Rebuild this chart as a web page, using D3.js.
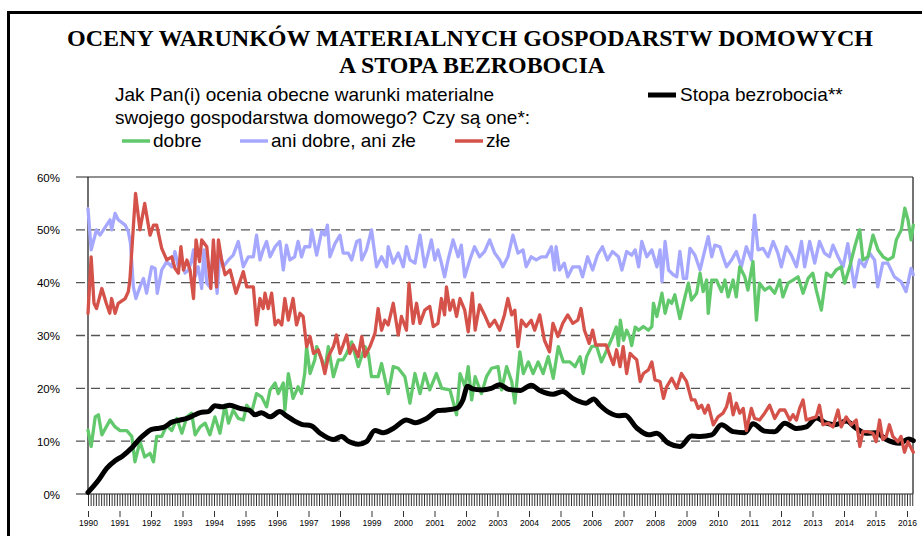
<!DOCTYPE html>
<html><head><meta charset="utf-8">
<script src="https://cdn.jsdelivr.net/npm/d3@7/dist/d3.min.js"></script>
<style>html,body{margin:0;padding:0;background:#fff;}svg{display:block;}</style>
</head><body>
<svg id="chart" width="922" height="536"></svg>
<script>
// ---- DATA (year as decimal, value in %) ----
const yearTicks = d3.range(1990, 2017);
const yTicks = [0, 10, 20, 30, 40, 50, 60];

const dobre = [[1990.0,12.1],[1990.1,9],[1990.23,14.6],[1990.33,15],[1990.44,11.2],[1990.7,14],[1990.86,12.7],[1991.02,12],[1991.23,12],[1991.39,10.9],[1991.49,6.1],[1991.65,9.9],[1991.8,7],[1991.97,7.7],[1992.08,6.1],[1992.18,10.9],[1992.34,10.9],[1992.5,13],[1992.66,12],[1992.82,14.3],[1992.98,11.5],[1993.14,14.6],[1993.29,15.3],[1993.4,11.2],[1993.56,12.7],[1993.72,13.4],[1993.87,11.2],[1994.03,14.6],[1994.19,11.5],[1994.35,16.8],[1994.46,13.4],[1994.61,15.9],[1994.77,14.3],[1994.93,14],[1995.04,16.8],[1995.2,15.6],[1995.35,19],[1995.51,18.4],[1995.67,16.5],[1995.78,19.7],[1995.94,21],[1996.04,19],[1996.2,21],[1996.25,15.9],[1996.36,22.8],[1996.51,18.1],[1996.67,20.3],[1996.78,19],[1996.88,22.8],[1996.94,27.9],[1997.05,22.8],[1997.2,25.4],[1997.26,27.9],[1997.42,25.4],[1997.52,23.5],[1997.63,27.9],[1997.79,22.2],[1997.95,25.4],[1998.1,25.4],[1998.21,26.6],[1998.37,28.8],[1998.58,24.1],[1998.79,27.9],[1998.9,26.6],[1999.0,22.2],[1999.21,22.2],[1999.32,24.7],[1999.53,19],[1999.69,24.1],[1999.85,23.8],[2000.06,22.2],[2000.22,17.2],[2000.38,22.8],[2000.54,19],[2000.69,22.8],[2000.85,19.7],[2001.06,22.8],[2001.23,20],[2001.49,19.7],[2001.7,15],[2001.81,22.8],[2001.97,20.3],[2002.07,24.1],[2002.18,17.8],[2002.29,22.2],[2002.49,19],[2002.65,22.2],[2002.81,23.8],[2003.02,24.1],[2003.13,19.7],[2003.29,24.1],[2003.45,21.3],[2003.55,17.2],[2003.71,26.9],[2003.82,22.8],[2003.98,25],[2004.13,22.8],[2004.29,25],[2004.45,22.8],[2004.61,26],[2004.77,21.9],[2004.93,27.9],[2005.09,25],[2005.3,25],[2005.46,24.1],[2005.62,26],[2005.72,22.8],[2005.83,26],[2005.99,27.9],[2006.14,28.1],[2006.3,25],[2006.51,27.8],[2006.65,29.7],[2006.77,31.6],[2006.84,28.1],[2006.9,32.9],[2007.0,29.1],[2007.1,31],[2007.2,29.7],[2007.26,28.1],[2007.37,31.6],[2007.48,31],[2007.63,31.7],[2007.79,31],[2007.9,31.7],[2007.95,36.1],[2008.06,33.6],[2008.22,38],[2008.32,34.2],[2008.43,36.7],[2008.53,36.1],[2008.63,37.7],[2008.79,33.2],[2008.95,37.3],[2009.06,39.9],[2009.16,36.7],[2009.32,38],[2009.43,41.8],[2009.53,38.3],[2009.64,40.5],[2009.69,34.2],[2009.8,40.5],[2009.95,40.5],[2010.11,38.3],[2010.22,40.5],[2010.32,37.3],[2010.48,40.5],[2010.58,37.3],[2010.69,43],[2010.85,41.1],[2010.95,38.6],[2011.11,44],[2011.22,32.9],[2011.32,39.9],[2011.48,38.6],[2011.64,39.2],[2011.8,38],[2011.96,40.5],[2012.06,37.3],[2012.22,39.9],[2012.38,40.5],[2012.54,41.1],[2012.7,38],[2012.86,40.8],[2013.01,41.8],[2013.12,38.6],[2013.28,34.8],[2013.44,41.8],[2013.6,41.1],[2013.75,42.4],[2013.91,43],[2014.02,39.9],[2014.18,43],[2014.34,46.8],[2014.5,50],[2014.6,44.3],[2014.76,44.9],[2014.92,49],[2015.08,46.2],[2015.24,44.9],[2015.4,44.3],[2015.56,44.9],[2015.66,48.1],[2015.82,50],[2015.93,54.1],[2016.03,51.9],[2016.13,48.1],[2016.2,50.9]];

const aniDobreAniZle = [[1990.0,54],[1990.1,46.2],[1990.27,50],[1990.38,49],[1990.7,51.9],[1990.75,50],[1990.86,53.1],[1990.96,51.9],[1991.18,50.9],[1991.28,49.7],[1991.35,47.4],[1991.44,39.2],[1991.52,37],[1991.65,39.2],[1991.76,40.8],[1991.86,38],[1992.02,43],[1992.13,42.7],[1992.2,38],[1992.34,42.4],[1992.5,44],[1992.66,43],[1992.76,45.9],[1992.87,43],[1992.98,44.3],[1993.08,41.8],[1993.19,42.4],[1993.29,44.3],[1993.35,46.2],[1993.4,41.1],[1993.5,43],[1993.61,38.9],[1993.68,46.2],[1993.77,39.9],[1993.87,39.2],[1993.98,46.2],[1994.1,38],[1994.19,45.9],[1994.29,43],[1994.46,44.3],[1994.61,45.2],[1994.77,47.8],[1994.93,43],[1995.09,44.9],[1995.25,44.9],[1995.35,49],[1995.46,44.3],[1995.56,46.2],[1995.67,47.8],[1995.78,44.9],[1995.94,46.8],[1996.09,47.8],[1996.2,42.4],[1996.3,47.1],[1996.41,44.3],[1996.56,44.9],[1996.67,47.8],[1996.78,44.9],[1996.88,46.8],[1997.04,46.8],[1997.1,50],[1997.26,45.2],[1997.42,49.7],[1997.52,49],[1997.6,50.9],[1997.68,44.9],[1997.84,47.4],[1998.0,49],[1998.1,45.6],[1998.26,45.6],[1998.37,44.3],[1998.53,47.8],[1998.63,48.1],[1998.69,44.3],[1998.84,46.2],[1999.0,50],[1999.16,43],[1999.32,44.9],[1999.48,43],[1999.53,46.8],[1999.69,43.7],[1999.85,45.6],[2000.01,43],[2000.11,46.8],[2000.22,44.3],[2000.38,43.7],[2000.54,49],[2000.69,43],[2000.8,45.6],[2000.9,48.1],[2001.01,44.3],[2001.11,46.2],[2001.22,43.7],[2001.32,41.1],[2001.43,44.3],[2001.59,48.1],[2001.75,44.9],[2001.85,47.1],[2001.96,41.1],[2002.12,44.3],[2002.27,46.8],[2002.43,44.9],[2002.59,45.9],[2002.75,48.1],[2002.91,45.6],[2003.07,44.3],[2003.17,43],[2003.33,44.9],[2003.49,49],[2003.65,45.6],[2003.81,46.2],[2003.91,43],[2004.07,44.9],[2004.23,44.3],[2004.39,44.9],[2004.55,44.9],[2004.71,46.8],[2004.81,42.4],[2004.86,46.8],[2004.97,42.4],[2005.12,43.7],[2005.23,41.1],[2005.39,43],[2005.6,43],[2005.7,41.1],[2005.86,44.9],[2006.02,42.4],[2006.17,45.2],[2006.33,46.8],[2006.49,44.3],[2006.65,45.9],[2006.84,44.9],[2006.95,42.4],[2007.1,45.9],[2007.26,45.2],[2007.37,46.2],[2007.48,43],[2007.58,47.8],[2007.74,44.9],[2007.9,46.2],[2008.06,43],[2008.16,46.2],[2008.22,40.2],[2008.32,47.8],[2008.43,42.4],[2008.58,41.5],[2008.69,41.1],[2008.79,45.9],[2008.9,40.8],[2009.0,40.8],[2009.11,46.5],[2009.27,45.2],[2009.43,42.4],[2009.53,44.9],[2009.69,48.7],[2009.8,44.9],[2009.9,47.1],[2010.06,46.8],[2010.16,44.9],[2010.27,43],[2010.43,44.3],[2010.58,45.9],[2010.74,43],[2010.9,46.8],[2011.06,44.3],[2011.16,52.8],[2011.27,46.2],[2011.43,46.5],[2011.59,44.9],[2011.75,47.8],[2011.9,45.6],[2012.01,43],[2012.17,46.8],[2012.33,45.2],[2012.49,43],[2012.65,47.8],[2012.75,43],[2012.91,47.8],[2013.07,43.7],[2013.22,47.8],[2013.38,45.6],[2013.54,44.9],[2013.65,47.1],[2013.81,44.9],[2013.97,43],[2014.12,47.4],[2014.23,43],[2014.33,39.2],[2014.49,44.3],[2014.65,43],[2014.81,45.6],[2014.97,44.3],[2015.07,39.2],[2015.23,43.7],[2015.39,43.7],[2015.6,41.1],[2015.81,40.2],[2015.97,38.3],[2016.13,42.7],[2016.2,41.5]];

const zle = [[1990.0,34.2],[1990.1,44.9],[1990.19,36.1],[1990.27,35.1],[1990.44,38.9],[1990.58,36.1],[1990.69,34.2],[1990.75,37],[1990.86,34.2],[1990.96,36.1],[1991.18,37],[1991.28,38.3],[1991.33,40.5],[1991.44,50.6],[1991.51,56.9],[1991.65,50],[1991.8,55],[1991.97,49],[1992.08,50.9],[1992.18,50.9],[1992.34,46.5],[1992.5,44.3],[1992.66,44.9],[1992.76,42.7],[1992.87,41.8],[1992.95,46.8],[1993.03,42.4],[1993.14,44.3],[1993.24,42.4],[1993.35,37],[1993.43,48.1],[1993.54,44],[1993.61,48.1],[1993.77,46.8],[1993.9,38.9],[1993.98,48.1],[1994.08,39.2],[1994.14,48.1],[1994.24,44.3],[1994.35,41.5],[1994.51,42.4],[1994.7,38],[1994.93,42.1],[1995.04,39.2],[1995.25,39.2],[1995.35,32],[1995.46,37],[1995.56,35.1],[1995.62,38],[1995.72,35.1],[1995.83,38],[1995.94,32],[1996.04,32.9],[1996.15,32],[1996.25,37],[1996.36,32.9],[1996.51,37],[1996.62,32],[1996.73,34.2],[1996.83,33.6],[1996.94,27.9],[1997.05,29.8],[1997.16,26.6],[1997.31,27.3],[1997.42,25.4],[1997.52,22.8],[1997.63,26],[1997.79,27.9],[1997.89,30.1],[1998.0,26.6],[1998.1,28.2],[1998.21,30.1],[1998.31,26.6],[1998.42,28.2],[1998.58,26],[1998.69,29.8],[1998.79,26],[1998.95,27.9],[1999.11,30.4],[1999.21,35.1],[1999.32,31],[1999.42,32.9],[1999.53,32],[1999.69,36.1],[1999.85,30.1],[1999.95,33.6],[2000.11,31],[2000.19,39.9],[2000.32,32.3],[2000.43,36.1],[2000.54,32.3],[2000.69,34.8],[2000.85,35.5],[2000.96,31.7],[2001.11,32.3],[2001.22,37],[2001.32,33.9],[2001.38,39.2],[2001.49,34.8],[2001.59,36.7],[2001.7,33.6],[2001.81,37],[2001.96,34.8],[2002.07,30.7],[2002.2,38],[2002.29,31],[2002.43,35.8],[2002.59,33.9],[2002.75,31.7],[2002.91,32.9],[2003.07,31],[2003.22,33.9],[2003.33,37],[2003.45,33.9],[2003.55,34.8],[2003.65,27.9],[2003.76,32.9],[2003.91,31.7],[2004.07,32.9],[2004.18,31],[2004.34,33.9],[2004.49,29.1],[2004.65,26.9],[2004.76,32.3],[2004.92,29.8],[2005.07,32.3],[2005.23,33.9],[2005.39,32.3],[2005.55,32.9],[2005.65,35.1],[2005.76,31],[2005.91,28.5],[2006.02,31],[2006.12,28.2],[2006.45,28.2],[2006.57,26.2],[2006.68,24.5],[2006.78,27.3],[2006.89,24.1],[2006.99,27.9],[2007.1,22.8],[2007.21,26.6],[2007.31,26],[2007.42,25.4],[2007.53,21.3],[2007.63,22.8],[2007.79,23.5],[2007.9,25],[2008.0,21.6],[2008.16,21.3],[2008.27,18.1],[2008.37,20.3],[2008.53,21.9],[2008.69,20],[2008.84,22.8],[2009.0,21.3],[2009.16,17.8],[2009.27,17.8],[2009.37,16.2],[2009.48,16.8],[2009.58,15.3],[2009.69,16.8],[2009.85,13.1],[2010.0,14.6],[2010.16,15.3],[2010.27,16.5],[2010.37,19],[2010.48,15],[2010.58,17.2],[2010.69,15.3],[2010.8,16.2],[2010.9,12],[2011.06,16.2],[2011.16,14.3],[2011.32,14],[2011.48,15.3],[2011.64,16.8],[2011.8,14.3],[2011.96,15.9],[2012.12,15.9],[2012.28,14],[2012.38,15],[2012.49,14],[2012.59,16.2],[2012.7,17.8],[2012.8,14],[2012.96,14.3],[2013.12,14.6],[2013.22,16.8],[2013.33,13.1],[2013.49,13.4],[2013.65,12.7],[2013.81,15.9],[2013.91,12.7],[2014.07,14.6],[2014.23,13.1],[2014.39,14],[2014.5,9],[2014.6,11.8],[2014.76,11.8],[2014.92,11.5],[2015.02,9.9],[2015.13,14],[2015.23,10.3],[2015.34,10.9],[2015.44,13.1],[2015.55,10.9],[2015.71,9.9],[2015.81,10.9],[2015.92,7.9],[2016.03,9.9],[2016.2,7.9]];

const stopaBezrobocia = [[1990.0,0.3],[1990.33,2.6],[1990.6,4.9],[1990.86,6.3],[1991.1,7.2],[1991.4,8.8],[1991.65,10.5],[1991.86,11.6],[1992.0,12.2],[1992.18,12.4],[1992.4,12.6],[1992.66,13.6],[1992.93,14.0],[1993.14,14.3],[1993.4,15.0],[1993.56,15.4],[1993.82,15.6],[1994.03,16.7],[1994.24,16.5],[1994.5,16.8],[1994.82,16.2],[1995.14,15.8],[1995.3,15.0],[1995.51,15.4],[1995.78,14.6],[1996.09,15.6],[1996.3,14.8],[1996.56,13.8],[1996.78,13.2],[1997.09,12.9],[1997.37,11.5],[1997.79,10.3],[1998.05,10.9],[1998.26,10.0],[1998.58,9.4],[1998.84,9.9],[1999.11,12.0],[1999.37,11.6],[1999.69,12.4],[2000.11,14.0],[2000.38,13.5],[2000.75,14.3],[2001.11,15.8],[2001.38,15.9],[2001.7,16.2],[2001.9,17.8],[2002.05,20.4],[2002.2,19.9],[2002.5,19.7],[2002.8,20.0],[2003.07,20.7],[2003.35,19.8],[2003.72,19.6],[2004.07,20.6],[2004.34,19.6],[2004.76,18.9],[2005.07,19.4],[2005.39,18.1],[2005.81,17.2],[2006.05,18.0],[2006.25,16.8],[2006.55,15.4],[2006.85,14.8],[2007.05,14.9],[2007.42,12.5],[2007.8,11.2],[2008.05,11.5],[2008.43,9.6],[2008.79,9.0],[2009.16,11.0],[2009.43,10.9],[2009.8,11.2],[2010.11,13.1],[2010.48,11.8],[2010.85,11.6],[2011.11,13.3],[2011.48,11.9],[2011.8,11.8],[2012.12,13.4],[2012.49,12.4],[2012.8,12.7],[2013.12,14.4],[2013.44,13.4],[2013.7,13.1],[2014.07,13.8],[2014.39,12.4],[2014.7,11.5],[2015.02,11.6],[2015.34,10.3],[2015.76,9.6],[2016.05,10.4],[2016.2,10.1]];

const titleLines = ["OCENY WARUNKÓW MATERIALNYCH GOSPODARSTW DOMOWYCH", "A STOPA BEZROBOCIA"];
const questionLines = ["Jak Pan(i) ocenia obecne warunki materialne", "swojego gospodarstwa domowego? Czy są one*:"];
const legendItems = [
  {label: "dobre", color: "#62c86c"},
  {label: "ani dobre, ani złe", color: "#a6a8ff"},
  {label: "złe", color: "#d4524a"}
];
const unempLabel = "Stopa bezrobocia**";

// ---- DRAWING ----
const svg = d3.select("#chart");
const W = 922, H = 536;
const pL = 88, pR = 913, pT = 177, pB = 494;
const x = d3.scaleLinear().domain([1990, 2016 + 0.19]).range([pL, pR]);
const y = d3.scaleLinear().domain([0, 60]).range([pB, pT]);

svg.append("rect").attr("width", W).attr("height", H).attr("fill", "#fff");

// outer frame lines (top and left)
svg.append("line").attr("x1", 7).attr("x2", W).attr("y1", 12.5).attr("y2", 12.5).attr("stroke", "#000").attr("stroke-width", 3);
svg.append("line").attr("x1", 8.5).attr("x2", 8.5).attr("y1", 11).attr("y2", H).attr("stroke", "#000").attr("stroke-width", 3);

// title
const title = svg.append("g").attr("font-family", "'Liberation Serif','Times New Roman',serif").attr("font-weight", "bold").attr("fill", "#000");
title.append("text").attr("x", 470).attr("y", 46).attr("text-anchor", "middle").attr("font-size", 24)
  .attr("textLength", 806).attr("lengthAdjust", "spacingAndGlyphs").text(titleLines[0]);
title.append("text").attr("x", 472).attr("y", 73).attr("text-anchor", "middle").attr("font-size", 24)
  .attr("textLength", 266).attr("lengthAdjust", "spacingAndGlyphs").text(titleLines[1]);

// question & legend
const sans = "'Liberation Sans',Arial,sans-serif";
const lg = svg.append("g").attr("font-family", sans).attr("font-size", 19).attr("fill", "#000");
lg.append("text").attr("x", 115).attr("y", 101).text(questionLines[0]);
lg.append("text").attr("x", 115).attr("y", 124).text(questionLines[1]);
const legX = [122, 240, 455];
legendItems.forEach((d, i) => {
  lg.append("line").attr("x1", legX[i]).attr("x2", legX[i] + 28).attr("y1", 141).attr("y2", 141)
    .attr("stroke", d.color).attr("stroke-width", 3.5);
  lg.append("text").attr("x", legX[i] + 31).attr("y", 147).text(d.label);
});
lg.append("line").attr("x1", 648).attr("x2", 676).attr("y1", 95).attr("y2", 95).attr("stroke", "#000").attr("stroke-width", 5);
lg.append("text").attr("x", 680).attr("y", 101).text(unempLabel);

// grid
const grid = svg.append("g");
yTicks.forEach(v => {
  const solid = (v === 0 || v === 60);
  grid.append("line").attr("x1", 76).attr("x2", pR).attr("y1", y(v)).attr("y2", y(v))
    .attr("stroke", solid ? "#222" : "#555").attr("stroke-width", solid ? 1.2 : 1.3)
    .attr("stroke-dasharray", solid ? null : "9,6");
});
grid.append("line").attr("x1", pR).attr("x2", pR).attr("y1", pT).attr("y2", pB).attr("stroke", "#444").attr("stroke-width", 1.5);
grid.append("line").attr("x1", pL).attr("x2", pL).attr("y1", pT).attr("y2", pB).attr("stroke", "#111").attr("stroke-width", 1.2);

// y axis labels
const yAxis = d3.axisLeft(y).tickValues(yTicks).tickFormat(d => d + "%").tickSize(0).tickPadding(0);
const yg = svg.append("g").attr("transform", "translate(60,0)").call(yAxis);
yg.select(".domain").remove();
yg.selectAll("text").attr("font-family", sans).attr("font-size", 11.5).attr("fill", "#000").attr("dy", "0.36em");

// x axis month ticks
const months = d3.range(0, 12 * 26 + 3).map(m => 1990 + m / 12).filter(t => t <= 2016.19);
const xMonth = d3.axisBottom(x).tickValues(months).tickSize(12).tickFormat("");
const xm = svg.append("g").attr("transform", `translate(0,${pB})`).call(xMonth);
xm.select(".domain").remove();
xm.selectAll("line").attr("stroke", "#333").attr("stroke-width", 1);

// x axis year ticks and labels
const xYear = d3.axisBottom(x).tickValues(yearTicks).tickSize(6).tickPadding(3).tickFormat(d3.format("d"));
const xyg = svg.append("g").attr("transform", "translate(0,511)").call(xYear);
xyg.select(".domain").remove();
xyg.selectAll("line").attr("stroke", "#333").attr("stroke-width", 1);
xyg.selectAll("text").attr("font-family", sans).attr("font-size", 8.5).attr("fill", "#000");

// series
const line = d3.line().x(d => x(d[0])).y(d => y(d[1]));
const smooth = d3.line().x(d => x(d[0])).y(d => y(d[1])).curve(d3.curveMonotoneX);
const g = svg.append("g").attr("fill", "none").attr("stroke-linejoin", "round").attr("stroke-linecap", "round");
g.append("path").datum(aniDobreAniZle).attr("d", line).attr("stroke", legendItems[1].color).attr("stroke-width", 3.3);
g.append("path").datum(dobre).attr("d", line).attr("stroke", legendItems[0].color).attr("stroke-width", 3.3);
g.append("path").datum(stopaBezrobocia).attr("d", smooth).attr("stroke", "#000").attr("stroke-width", 5);
g.append("path").datum(zle).attr("d", line).attr("stroke", legendItems[2].color).attr("stroke-width", 3.3);
</script>
</body></html>
